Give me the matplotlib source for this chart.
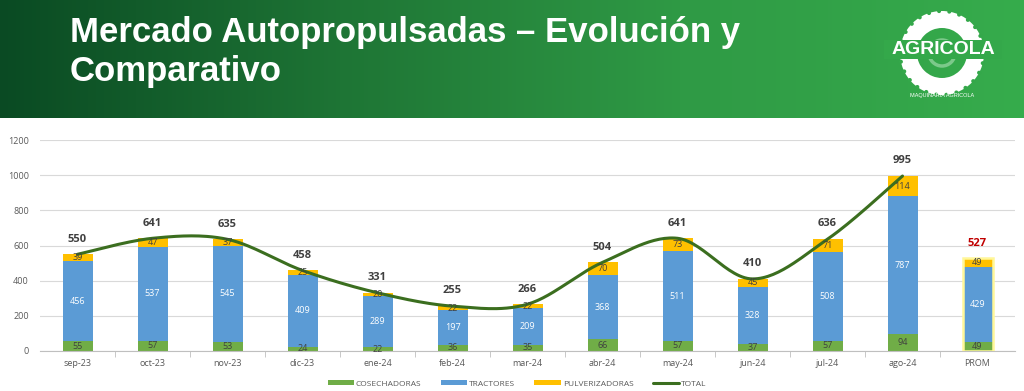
import numpy as np
import matplotlib

matplotlib.use('Agg')
import matplotlib.pyplot as plt
from matplotlib.patches import Wedge, Rectangle, Circle
from matplotlib.colors import LinearSegmentedColormap

plt.rcParams['font.family'] = ['Open Sans', 'DejaVu Sans']

# Data
meses = ['sep-23', 'oct-23', 'nov-23', 'dic-23', 'ene-24', 'feb-24', 'mar-24',
         'abr-24', 'may-24', 'jun-24', 'jul-24', 'ago-24', 'PROM']
cosechadoras = [55, 57, 53, 24, 22, 36, 35, 66, 57, 37, 57, 94, 49]
tractores = [456, 537, 545, 409, 289, 197, 209, 368, 511, 328, 508, 787, 429]
pulverizadoras = [39, 47, 37, 25, 20, 22, 22, 70, 73, 45, 71, 114, 49]
totales = [550, 641, 635, 458, 331, 255, 266, 504, 641, 410, 636, 995, 527]

C_GREEN = '#70ad47'
C_BLUE = '#5b9bd5'
C_YELLOW = '#ffc000'
C_LINE = '#3b6e1f'
C_TEXT = '#595959'

W, H = 1024, 391


def catmull_rom(xs, ys, n=30):
    # smooth curve through points, similar to Excel's smoothed line
    p = np.column_stack([xs, ys]).astype(float)
    p = np.vstack([p[0], p, p[-1]])
    out = []
    for i in range(1, len(p) - 2):
        p0, p1, p2, p3 = p[i - 1], p[i], p[i + 1], p[i + 2]
        b1 = p1 + (p2 - p0) / 6
        b2 = p2 - (p3 - p1) / 6
        t = np.linspace(0, 1, n)[:, None]
        seg = ((1 - t) ** 3) * p1 + 3 * ((1 - t) ** 2) * t * b1 + 3 * (1 - t) * t ** 2 * b2 + t ** 3 * p2
        out.append(seg if i == 1 else seg[1:])
    c = np.vstack(out)
    return c[:, 0], c[:, 1]


fig = plt.figure(figsize=(W / 100, H / 100), dpi=100)

# header band + logo, drawn in pixel coords
bg = fig.add_axes([0, 0, 1, 1], zorder=0)
bg.set_xlim(0, W)
bg.set_ylim(H, 0)
bg.axis('off')
cmap = LinearSegmentedColormap.from_list('hdr', ['#0a4a23', '#1e7535', '#2f9a45', '#36ac4c'])
grad = np.linspace(0, 1, 256)[None, :]
bg.imshow(grad, cmap=cmap, extent=(0, W, 118, 0), aspect='auto')
bg.text(70, 42, 'Mercado Autopropulsadas – Evolución y', color='white', fontsize=25,
        fontweight='bold', family='Liberation Sans', va='baseline')
bg.text(70, 81, 'Comparativo', color='white', fontsize=25,
        fontweight='bold', family='Liberation Sans', va='baseline')

cx, cy = 942, 53
logo_bg = cmap(cx / W)
bg.add_patch(Wedge((cx, cy), 42, 0, 360, width=17, facecolor='white', edgecolor='none'))
for ang in np.arange(0, 360, 14):
    a = np.radians(ang)
    bg.add_patch(Circle((cx + 42 * np.cos(a), cy + 42 * np.sin(a)), 2.0, facecolor=logo_bg, edgecolor='none'))
bg.add_patch(Circle((cx, cy), 13, facecolor='none', edgecolor='#7cc98a', linewidth=2.5))
bg.add_patch(Rectangle((884, 40), 118, 19, facecolor=logo_bg, edgecolor='none'))
bg.text(cx + 1, 50, 'AGRICOLA', color='white', fontsize=14, fontweight='bold',
        family='Liberation Sans', ha='center', va='center')
bg.text(cx, 96, 'MAQUINARIA AGRICOLA', color='white', fontsize=4,
        family='Liberation Sans', ha='center', va='center')

# chart
ax = fig.add_axes([40 / W, 1 - 351 / H, 975 / W, 211 / H], zorder=1)
x = np.arange(len(meses))
bw = 0.4
cos = np.array(cosechadoras)
tra = np.array(tractores)
pul = np.array(pulverizadoras)

h1 = ax.bar(x, cos, bw, color=C_GREEN, label='COSECHADORAS', zorder=2)
h2 = ax.bar(x, tra, bw, bottom=cos, color=C_BLUE, label='TRACTORES', zorder=2)
h3 = ax.bar(x, pul, bw, bottom=cos + tra, color=C_YELLOW, label='PULVERIZADORAS', zorder=2)

# highlighted average bar
last = len(meses) - 1
ax.bar(x[last], totales[last], bw, facecolor='none', edgecolor='#fff799', linewidth=1.8, zorder=3)

lx, ly = catmull_rom(x[:last], totales[:last])
h4, = ax.plot(lx, ly, color=C_LINE, linewidth=2.2, label='TOTAL', zorder=4, solid_capstyle='round')

for i in x:
    ax.text(i, cos[i] / 2, str(cos[i]), ha='center', va='center', fontsize=6.5, color='#404040', zorder=5)
    ax.text(i, cos[i] + tra[i] / 2, str(tra[i]), ha='center', va='center', fontsize=6.5, color='white', zorder=5)
    ax.text(i, cos[i] + tra[i] + pul[i] / 2, str(pul[i]), ha='center', va='center', fontsize=6.5,
            color='#404040', zorder=5)
    ax.annotate(str(totales[i]), (i, totales[i]), xytext=(0, 7), textcoords='offset points',
                ha='center', va='bottom', fontsize=8, fontweight='bold',
                color='#c00000' if i == last else '#404040', zorder=5)

ax.set_xlim(-0.5, len(meses) - 0.5)
ax.set_ylim(0, 1200)
ax.set_yticks(range(0, 1201, 200))
ax.yaxis.grid(True, color='#d9d9d9', linewidth=0.8, zorder=0)
ax.set_axisbelow(True)
for s in ['top', 'right', 'left']:
    ax.spines[s].set_visible(False)
ax.spines['bottom'].set_color('#bfbfbf')
ax.tick_params(axis='y', length=0, labelsize=6.5, labelcolor=C_TEXT, pad=8)
ax.set_xticks(x)
ax.set_xticklabels(meses)
ax.tick_params(axis='x', length=0, labelsize=6.5, labelcolor=C_TEXT, pad=6)
ax.set_xticks(np.arange(0.5, len(meses) - 0.5), minor=True)
ax.tick_params(axis='x', which='minor', length=4, color='#bfbfbf')

fig.legend([h1, h2, h3, h4], ['COSECHADORAS', 'TRACTORES', 'PULVERIZADORAS', 'TOTAL'],
           loc='center', bbox_to_anchor=(517 / W, 1 - 384 / H), ncol=4, frameon=False,
           fontsize=6, labelcolor=C_TEXT, handlelength=3.2, handleheight=0.5,
           columnspacing=2.3, handletextpad=0.2, borderpad=0)

fig.savefig('out.png', dpi=100)
